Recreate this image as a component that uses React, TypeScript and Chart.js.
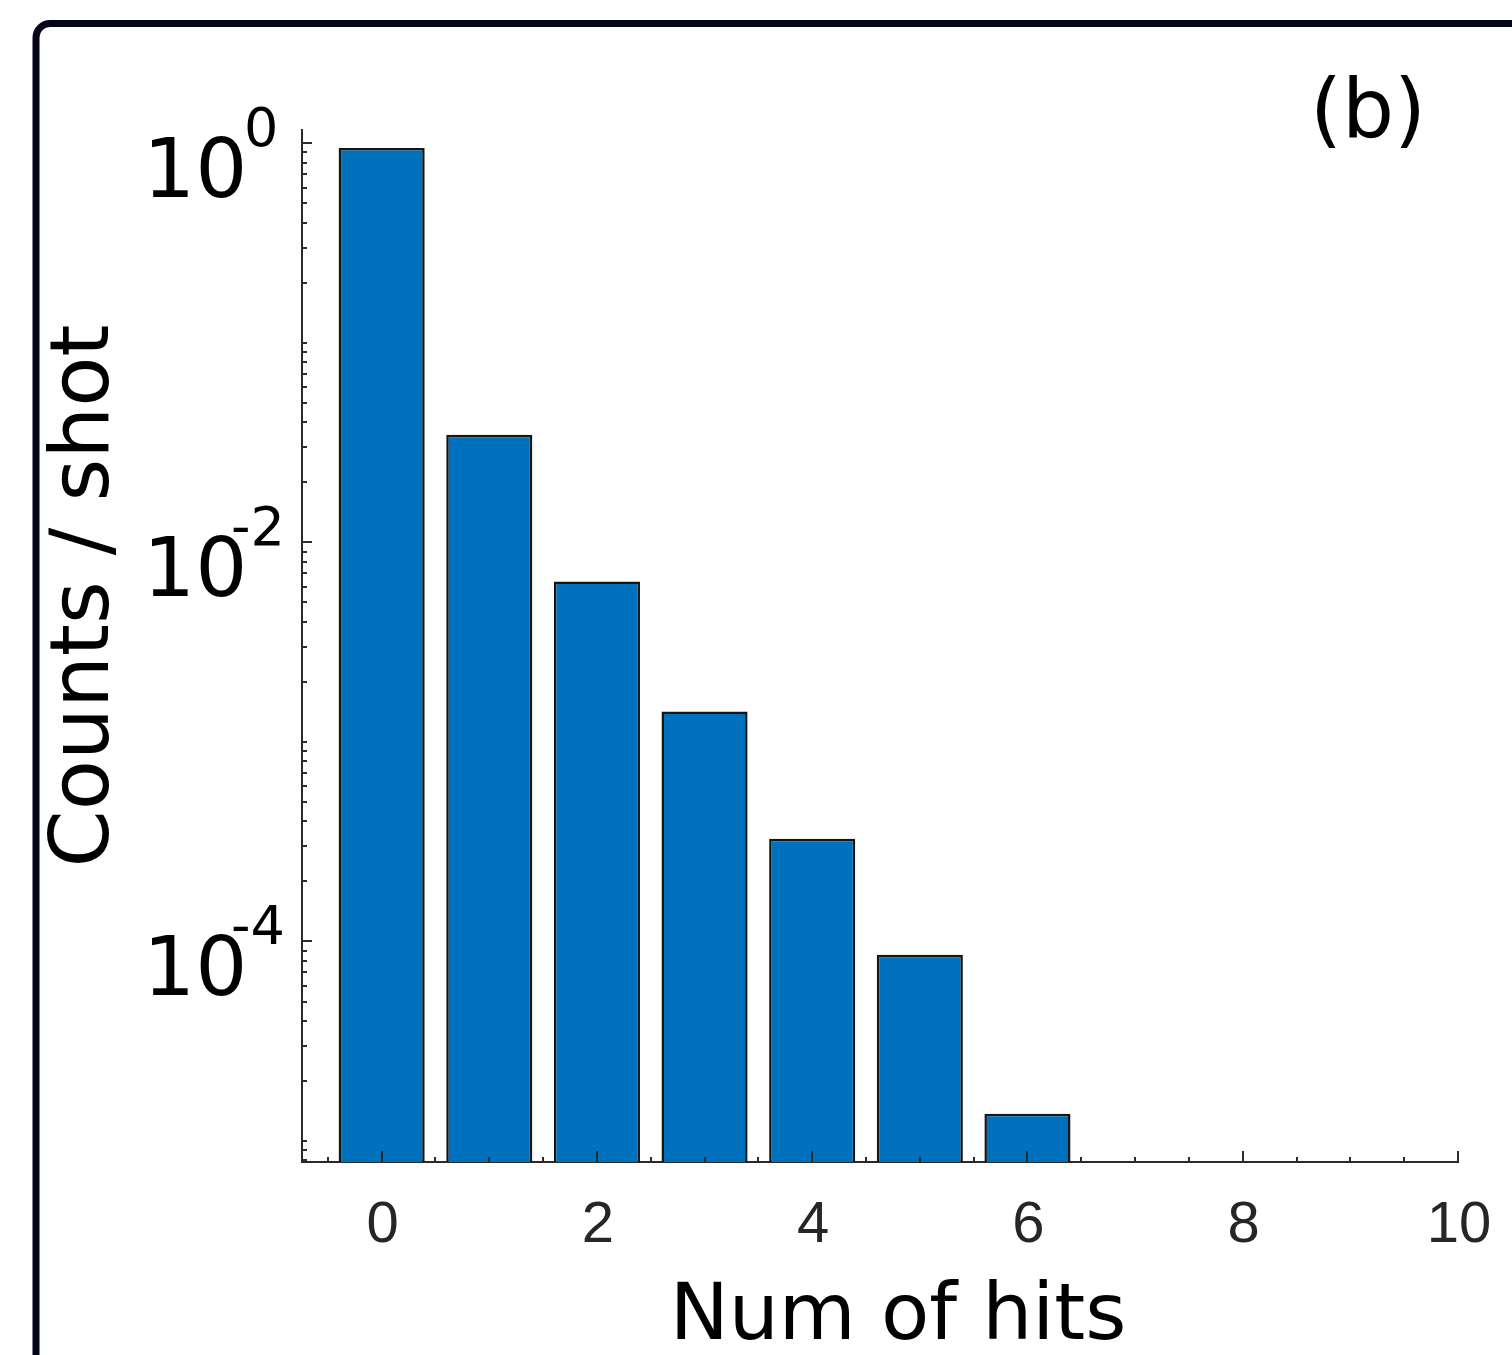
import React, { useEffect, useRef } from "react";
import { Chart, registerables } from "chart.js";

Chart.register(...registerables);

// ---- data ----
const hits = [0, 1, 2, 3, 4, 5, 6];
const countsPerShot = [0.947, 0.0346, 0.00637, 0.00142, 3.27e-4, 8.57e-5, 1.37e-5];
const xTickLabels = [0, 2, 4, 6, 8, 10];
const xMinorTicks = [-0.5, 0, 0.5, 1, 1.5, 2, 2.5, 3, 3.5, 4, 4.5, 5, 5.5, 6, 6.5, 7, 7.5, 8, 8.5, 9, 9.5, 10];
const yTickExponents = [0, -2, -4];
const yDecades = [-6, -5, -4, -3, -2, -1, 0];
const yMantissas = [1, 2, 3, 4, 5, 6, 7, 8, 9];
const xMin = -0.74;
const xMax = 10;
const yMin = 7.85e-6;
const yMax = 1.166;
const xTitle = "Num of hits";
const yTitle = "Counts / shot";
const panelLabel = "(b)";

const AXIS_COLOR = "#2b2b2b";
const SANS = "'DejaVu Sans', Verdana, sans-serif";

const decorPlugin = {
  id: "decor",
  beforeDraw(chart: any) {
    const ctx = chart.ctx as CanvasRenderingContext2D;
    ctx.save();
    ctx.lineWidth = 7;
    ctx.strokeStyle = "#05051a";
    const x0 = 36, y0 = 23.5, r = 14, x1 = 1700, y1 = 1700;
    ctx.beginPath();
    ctx.moveTo(x0, y1);
    ctx.lineTo(x0, y0 + r);
    ctx.arc(x0 + r, y0 + r, r, Math.PI, 1.5 * Math.PI);
    ctx.lineTo(x1, y0);
    ctx.stroke();
    ctx.restore();
  },
  afterDatasetsDraw(chart: any) {
    const ctx = chart.ctx as CanvasRenderingContext2D;
    const { chartArea, scales } = chart;
    const x = scales.x;
    const y = scales.y;
    ctx.save();
    ctx.strokeStyle = AXIS_COLOR;
    ctx.lineWidth = 2;
    for (const v of xMinorTicks) {
      const px = Math.round(x.getPixelForValue(v));
      const len = xTickLabels.includes(v) ? 11 : 5;
      ctx.beginPath();
      ctx.moveTo(px, chartArea.bottom);
      ctx.lineTo(px, chartArea.bottom - len);
      ctx.stroke();
    }
    for (const d of yDecades) {
      for (const m of yMantissas) {
        const v = m * Math.pow(10, d);
        if (v < y.min * 1.001 || v > y.max) continue;
        const py = Math.round(y.getPixelForValue(v));
        const len = m === 1 && yTickExponents.includes(d) ? 10 : 5;
        ctx.beginPath();
        ctx.moveTo(chartArea.left, py);
        ctx.lineTo(chartArea.left + len, py);
        ctx.stroke();
      }
    }
    ctx.restore();
  },
  afterDraw(chart: any) {
    const ctx = chart.ctx as CanvasRenderingContext2D;
    const { chartArea, scales } = chart;
    const x = scales.x;
    const y = scales.y;
    ctx.save();
    // x tick labels
    ctx.fillStyle = "#262626";
    ctx.font = "58px 'Liberation Sans', Arial, sans-serif";
    ctx.textAlign = "center";
    ctx.textBaseline = "alphabetic";
    for (const v of xTickLabels) {
      ctx.fillText(String(v), x.getPixelForValue(v) + 1, chartArea.bottom + 80);
    }
    // y tick labels 10^n
    ctx.fillStyle = "#000";
    ctx.textAlign = "left";
    for (const e of yTickExponents) {
      const py = y.getPixelForValue(Math.pow(10, e));
      ctx.font = `82px ${SANS}`;
      ctx.fillText("10", 143, py + 54);
      const sup = e < 0 ? "-" + String(-e) : String(e);
      ctx.font = `54px ${SANS}`;
      ctx.fillText(sup, e < 0 ? 231 : 244, py + 3);
    }
    // x title
    ctx.font = `79px ${SANS}`;
    ctx.textAlign = "center";
    ctx.fillText(xTitle, 898, 1339);
    // panel label
    ctx.font = `82px ${SANS}`;
    ctx.fillText(panelLabel, 1368, 137);
    // y title
    ctx.translate(108, 596);
    ctx.rotate(-Math.PI / 2);
    ctx.font = `82px ${SANS}`;
    ctx.textAlign = "center";
    ctx.fillText(yTitle, 0, 0);
    ctx.restore();
  },
};

export default function App() {
  const canvasRef = useRef<HTMLCanvasElement | null>(null);

  useEffect(() => {
    const canvas = canvasRef.current;
    if (!canvas) return;
    const chart = new Chart(canvas, {
      type: "bar",
      data: {
        datasets: [
          {
            data: hits.map((h, i) => ({ x: h, y: countsPerShot[i] })),
            backgroundColor: "#0071BD",
            borderColor: "#151515",
            borderWidth: 2.5,
            barPercentage: 1,
            categoryPercentage: 0.8,
          },
        ],
      },
      options: {
        animation: false,
        responsive: false,
        maintainAspectRatio: false,
        devicePixelRatio: 1,
        layout: { padding: { left: 302, right: 54, top: 130, bottom: 193 } },
        plugins: {
          legend: { display: false },
          tooltip: { enabled: false },
          title: { display: false },
        },
        scales: {
          x: {
            type: "linear",
            min: xMin,
            max: xMax,
            offset: false,
            z: 1,
            ticks: { display: false, stepSize: 2, includeBounds: false },
            grid: { display: false, drawTicks: false, offset: false },
            border: { display: true, color: AXIS_COLOR, width: 2 },
            title: { display: false },
          },
          y: {
            type: "logarithmic",
            min: yMin,
            max: yMax,
            z: 1,
            ticks: { display: false },
            grid: { display: false, drawTicks: false },
            border: { display: true, color: AXIS_COLOR, width: 2 },
            title: { display: false },
          },
        },
      } as any,
      plugins: [decorPlugin],
    });
    return () => chart.destroy();
  }, []);

  return (
    <div style={{ position: "fixed", left: 0, top: 0, width: 1512, height: 1355, background: "#fff", overflow: "hidden" }}>
      <canvas ref={canvasRef} width={1512} height={1355} style={{ width: 1512, height: 1355, display: "block" }} />
    </div>
  );
}
